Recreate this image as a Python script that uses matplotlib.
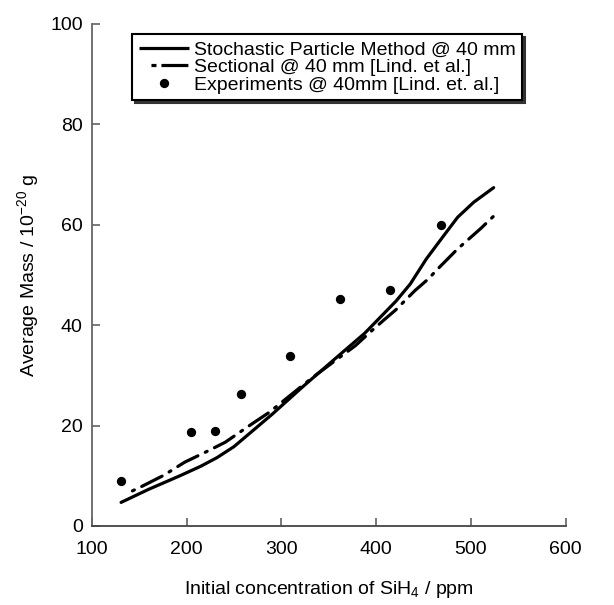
import matplotlib
matplotlib.use("Agg")
import matplotlib.pyplot as plt
from matplotlib.lines import Line2D

plt.rcParams['font.family'] = ['Liberation Sans', 'DejaVu Sans']
plt.rcParams['mathtext.default'] = 'regular'
plt.rcParams['lines.scale_dashes'] = False

# Stochastic Particle Method @ 40 mm
spm_x = [131, 160, 193, 215, 232, 250, 270, 290, 323, 356, 388, 421, 436, 453, 470, 486, 503, 524]
spm_y = [4.7, 7.3, 10.0, 11.9, 13.6, 15.8, 19.0, 22.2, 27.8, 33.2, 38.4, 44.8, 48.2, 53.2, 57.5, 61.5, 64.5, 67.4]

# Sectional @ 40 mm [Lind. et al.]
sec_x = [143, 153, 176, 198, 221, 241, 264, 287, 308, 331, 353, 378, 396, 408, 421, 441, 455, 465, 486, 498, 510, 525]
sec_y = [7.0, 7.9, 10.1, 12.7, 14.8, 16.7, 19.7, 22.6, 25.8, 29.3, 32.4, 35.9, 39.0, 41.0, 43.1, 46.9, 49.2, 51.2, 55.2, 57.2, 59.2, 61.9]

# Experiments @ 40mm [Lind. et. al.]
exp_x = [131, 205, 230, 258, 309, 362, 415, 468]
exp_y = [8.9, 18.7, 18.9, 26.2, 33.9, 45.3, 47.0, 60.0]

labels = ['Stochastic Particle Method @ 40 mm',
          'Sectional @ 40 mm [Lind. et al.]',
          'Experiments @ 40mm [Lind. et. al.]']

x_ticks = [100, 200, 300, 400, 500, 600]
y_ticks = [0, 20, 40, 60, 80, 100]

fig = plt.figure(figsize=(6.14, 6.05), dpi=100)
ax = fig.add_axes([91.7/614, 1 - 526/605, 474/614, 502/605])

lw = 2.3
ax.plot(spm_x, spm_y, color='black', lw=lw, solid_capstyle='round',
        solid_joinstyle='round')
ax.plot(sec_x, sec_y, color='black', lw=lw, dashes=(1.5, 5.9, 16.4, 5.9),
        dash_capstyle='round', dash_joinstyle='round')
ax.plot(exp_x, exp_y, 'o', color='black', ms=6.7, mew=0)

ax.set_xlim(100, 600)
ax.set_ylim(0, 100)
ax.set_xticks(x_ticks)
ax.set_yticks(y_ticks)
for s in ['top', 'right']:
    ax.spines[s].set_visible(False)
ax.spines['left'].set_linewidth(1.3)
ax.spines['left'].set_color('#666666')
ax.spines['bottom'].set_linewidth(1.3)
ax.spines['bottom'].set_color('#444444')
ax.tick_params(direction='in', length=6, width=1.1, color='#555555',
               labelsize=14)
ax.tick_params(axis='x', pad=10.5)
ax.tick_params(axis='y', pad=6.5)

ax.set_xlabel('Initial concentration of SiH$_4$ / ppm', fontsize=14)
ax.xaxis.set_label_coords(0.5, -0.106)
ax.set_ylabel('Average Mass / 10$^{-20}$ g', fontsize=14)
ax.yaxis.set_label_coords(-0.106, 0.5)

# legend proxies (appearance only)
h_spm = Line2D([], [], color='black', lw=lw, solid_capstyle='butt')
h_sec = Line2D([], [], color='black', lw=lw, dash_capstyle='butt',
               dashes=(0.01, 8.6, 3.6, 3.6, 19.4, 10))
h_exp = Line2D([], [], ls='none', marker='o', color='black', ms=6.7, mew=0)

leg = ax.legend([h_spm, h_sec, h_exp], labels,
                loc='upper left', bbox_to_anchor=(0.0857, 0.980), fontsize=14,
                numpoints=1, frameon=True, fancybox=False, edgecolor='black',
                handlelength=2.55, handletextpad=0.25, borderpad=0.35,
                labelspacing=0.0, borderaxespad=0,
                shadow={'color': '0.2', 'alpha': 1})
leg.get_frame().set_linewidth(1.5)

fig.savefig('out.png', dpi=100)
